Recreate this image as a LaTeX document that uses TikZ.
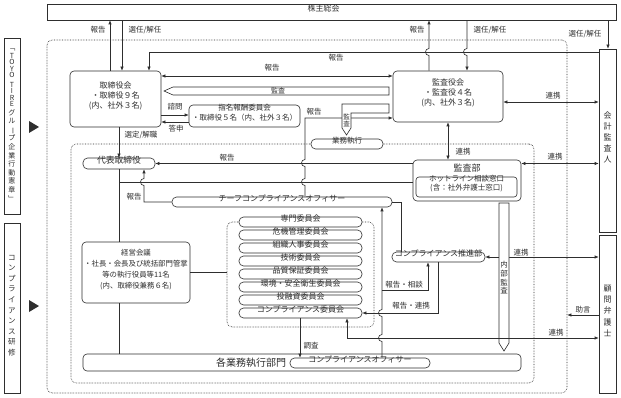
\documentclass[tikz,border=0pt]{standalone}
\usepackage{fontspec}
\usepackage{graphicx}
\setmainfont{Noto Sans CJK JP}
\usetikzlibrary{arrows.meta,fit}
\definecolor{ink}{HTML}{2E2E2E}
\newcommand\fsz[2]{\fontsize{#1}{#2}\selectfont}
\newcommand\vbar{\rotatebox[origin=c]{-90}{ー}}
\begin{document}
\begin{tikzpicture}[x=1pt,y=-1pt,
 ln/.style={draw=ink,line width=0.6pt},
 arr/.style={ln,-{Latex[length=4pt,width=3.4pt]}},
 darr/.style={ln,{Latex[length=4pt,width=3.4pt]}-{Latex[length=4pt,width=3.4pt]}},
 hop/.style={out=180,in=180,looseness=1.7},
 box/.style={draw=ink,line width=0.6pt,fill=white,rounded corners=4pt,inner sep=0pt,align=center,text=ink},
 pill/.style={box,rounded corners=4.5pt},
 sq/.style={box,sharp corners},
 dots/.style={draw=ink,line width=0.6pt,densely dotted,rounded corners=5pt,inner sep=0pt},
 lbl/.style={font=\fsz{7.5}{9},text=ink,inner sep=0pt},
]
\useasboundingbox (0,0) rectangle (621,398);
\fill[white] (0,0) rectangle (621,398);

% containers
\node[dots,fit={(47,40) (567,393)}] (outer) {};
\node[dots,fit={(71,144) (534,383)}] (inner) {};
\node[dots,fit={(227,222) (374,327)}] (group) {};

% left panels
\node[sq,fit={(4,38) (20,214)},font=\fsz{7}{8.6}] (charter)
 {﹁\\[-1pt]T\\[-2.2pt]O\\[-2.2pt]Y\\[-2.2pt]O\\[1pt]T\\[-2.2pt]I\\[-2.2pt]R\\[-2.2pt]E\\グ\\ル\\\vbar\\プ\\企\\業\\行\\動\\憲\\章\\﹂};
\node[sq,fit={(4,223) (20,393)},font=\fsz{7.5}{10.6}] (training)
 {コ\\ン\\プ\\ラ\\イ\\ア\\ン\\ス\\研\\修};
\fill[ink] (29,121) -- (39,127) -- (29,133) -- cycle;
\fill[ink] (29,300) -- (39,306) -- (29,312) -- cycle;

% right panels
\node[sq,fit={(47,4) (616,20)},font=\fsz{8}{10}] (sh) {株主総会\hspace*{16pt}};
\node[sq,fit={(599,49) (616,232)},font=\fsz{8}{11}] (kaikei) {会\\計\\監\\査\\人};
\node[sq,fit={(599,235) (616,393)},font=\fsz{8}{11.2}] (komon) {顧\\問\\弁\\護\\士};

% main boxes
\node[box,fit={(70,71) (161,127)},font=\fsz{8}{10}] (bod) {取締役会\\・取締役９名\\(内、社外３名)};
\node[box,fit={(189,105) (300,127)},font=\fsz{7.5}{10}] (shimei) {指名報酬委員会\\・取締役５名（内、社外３名）};
\node[box,fit={(393,71) (503,122)},font=\fsz{8}{10}] (kyk) {監査役会\\・監査役４名\\(内、社外３名)};
\node[pill,fit={(83,158) (155,169)},font=\fsz{8.8}{9}] (daihyo) {代表取締役};
\node[pill,fit={(311,139) (383,149)},font=\fsz{7.5}{9}] (gyomu) {業務執行};
\node[box,fit={(413,160) (521,201)}] (kansabu) {};
\node[font=\fsz{9}{9},text=ink,inner sep=0pt] (kbtitle) at (467,168.5) {監査部};
\node[box,rounded corners=3pt,fit={(416,177) (517,197)},font=\fsz{7.5}{8.6}] (hotline) {ホットライン相談窓口\\(含：社外弁護士窓口)};
\node[pill,fit={(172,197) (392,207)},font=\fsz{8}{9}] (chief) {チーフコンプライアンスオフィサー};
\node[pill,fit={(392,252) (485,262)},font=\fsz{8}{9}] (suishin) {コンプライアンス推進部};
\node[box,fit={(82,242) (190,303)},font=\fsz{7.4}{11}] (keiei) {経営会議\\・社長・会長及び統括部門管掌\\等の執行役員等11名\\(内、取締役兼務６名)};
\node[box,fit={(83,354) (521,371)}] (kakugyomu) {};
\node[font=\fsz{10}{10},text=ink,inner sep=0pt] (kakutext) at (251,362.5) {各業務執行部門};
\node[pill,fit={(290,358) (430,368)},font=\fsz{8}{9}] (co) {コンプライアンスオフィサー};

% committees
\foreach \n/\cy/\t in {c1/222/専門委員会,c2/235/危機管理委員会,c3/248/組織人事委員会,c4/261/技術委員会,c5/274/品質保証委員会,c6/287/環境・安全衛生委員会,c7/300/投融資委員会,c8/313/コンプライアンス委員会}
 \node[pill,fit={(239,\cy-5) (362,\cy+5)},font=\fsz{8}{9}] (\n) {\t};

% junction coordinates
\coordinate (j182) at (119,182);
\coordinate (j290) at (382,290);

% connectors
\draw[arr] (bod.north -| 110,0) -- (sh.south -| 110,0);
\draw[arr] (sh.south -| 122,0) -- (bod.north -| 122,0);
\draw[arr] (kyk.north -| 429,0) -- (429,55.5) to[hop] (429,48.5) -- (sh.south -| 429,0);
\draw[arr] (sh.south -| 467,0) -- (467,48.5) to[hop] (467,55.5) -- (kyk.north -| 467,0);
\draw[arr] (sh.south -| 608,0) -- (kaikei.north -| 608,0);
\draw[arr] (kaikei.west |- 0,52) -- (149,52) -- (bod.north -| 149,0);
\draw[darr] (bod.east |- 0,76) -- (kyk.west |- 0,76);
\draw[arr] (chief.north -| 305,0) -- (305,185.5) to[hop] (305,178.5) -- (305,166.5) to[hop] (305,159.5) -- (305,118) -- (kyk.west |- 0,118);
\draw[arr] (bod.east |- 0,115) -- (shimei.west |- 0,115);
\draw[arr] (shimei.west |- 0,122) -- (bod.east |- 0,122);
\draw[darr] (kyk.south -| 448,0) -- (kansabu.north -| 448,0);
\draw[darr] (kyk.east |- 0,102) -- (kaikei.west |- 0,102);
\draw[arr] (bod.south -| 119,0) -- (daihyo.north -| 119,0);
\draw[ln] (daihyo.south -| 119,0) -- (keiei.north -| 119,0);
\draw[ln] (keiei.south -| 119,0) -- (kakugyomu.north -| 119,0);
\draw[arr] (kansabu.west |- daihyo.east) -- (daihyo.east);
\draw[ln] (kansabu.west |- j182) -- (j182);
\draw[arr] (chief.west) -- (144,202) -- (144,185.5) to[hop] (144,178.5) -- (daihyo.south -| 144,0);
\draw[ln] (chief.east) -- (401,202) -- (suishin.north -| 401,0);
\draw[arr] (co.north -| 382,0) -- (382,341.5) to[hop] (382,334.5) -- (382,316.5) to[hop] (382,309.5) -- (chief.south -| 382,0);
\draw[arr] (j290) -- (428,290) -- (suishin.south -| 428,0);
\draw[arr] (suishin.south -| 438,0) |- (c8.east);
\draw[arr] (c8.south -| 300,0) -- (co.north -| 300,0);
\draw[ln] (keiei.east) -- (group.west |- keiei.east);
\draw[darr] (kansabu.east |- daihyo.east) -- (kaikei.west |- daihyo.east);
\draw[darr] (suishin.east) -- (komon.west |- suishin.east);
\draw[arr] (komon.west |- 0,315) -- (outer.east |- 0,315);

% block arrows (監査)
\draw[ln,fill=white] (389,87) -- (173,87) -- (164,91) -- (173,95) -- (389,95) -- cycle;
\node[lbl,font=\fsz{7}{8}] (bk1) at (278,91) {監査};
\draw[ln,fill=white] (389,104) -- (342,104) -- (342,128) -- (346.5,135) -- (351,128) -- (351,113) -- (389,113) -- cycle;
\node[lbl,font=\fsz{6.5}{7.5},align=center] (bk2) at (346.5,120.5) {監\\査};
\draw[ln,fill=white] (499,203) -- (509,203) -- (509,343) -- (504,351) -- (499,343) -- cycle;
\node[lbl,font=\fsz{7.5}{8.7},align=center] (bk3) at (504,278) {内\\部\\監\\査};
\draw[darr] (c8.south -| 347,0) -- (347,338) -- (komon.west |- 0,338);

% labels
\node[lbl] (t1) at (98,30) {報告};
\node[lbl] (t2) at (145,30) {選任/解任};
\node[lbl] (t3) at (417,30) {報告};
\node[lbl] (t4) at (490,30) {選任/解任};
\node[lbl] (t5) at (585,34) {選任/解任};
\node[lbl] (t6) at (336,58) {報告};
\node[lbl] (t7) at (272,68) {報告};
\node[lbl] (t8) at (175,107) {諮問};
\node[lbl] (t9) at (176,129) {答申};
\node[lbl] (t10) at (314,112) {報告};
\node[lbl] (t11) at (553,96) {連携};
\node[lbl] (t12) at (141,135) {選定/解職};
\node[lbl] (t13) at (463,152) {連携};
\node[lbl] (t14) at (227,158) {報告};
\node[lbl] (t15) at (555,157) {連携};
\node[lbl] (t16) at (134,197) {報告};
\node[lbl] (t17) at (521,253) {連携};
\node[lbl] (t18) at (404,285) {報告・相談};
\node[lbl] (t19) at (411,306) {報告・連携};
\node[lbl] (t20) at (583,310) {助言};
\node[lbl] (t21) at (556,333) {連携};
\node[lbl] (t22) at (311,346) {調査};
\end{tikzpicture}
\end{document}
